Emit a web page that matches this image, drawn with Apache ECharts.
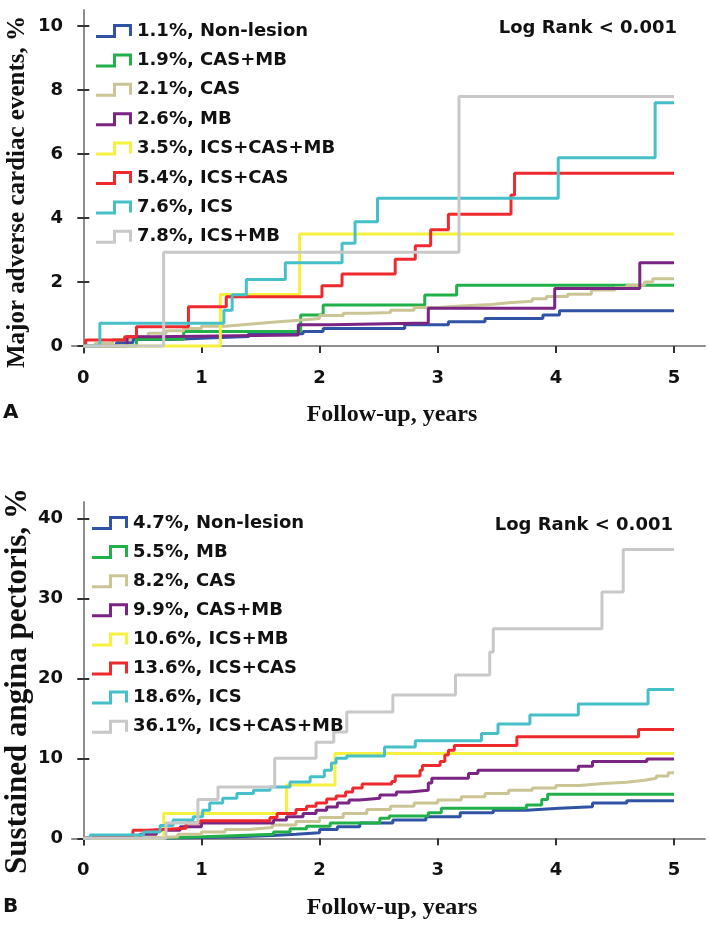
<!DOCTYPE html>
<html><head><meta charset="utf-8">
<script src="https://cdn.jsdelivr.net/npm/echarts@6/dist/echarts.min.js"></script>
<style>html,body{margin:0;padding:0;background:#fff}#c{width:709px;height:926px}</style>
</head><body><div id="c"></div>
<script>
// ---------- tick labels ----------
const xTicks = [0, 1, 2, 3, 4, 5];
const maceTicks = [0, 2, 4, 6, 8, 10];
const anginaTicks = [0, 10, 20, 30, 40];

// ---------- panel A: Major adverse cardiac events (%) ----------
const maceNames = ['1.1%, Non-lesion', '1.9%, CAS+MB', '2.1%, CAS', '2.6%, MB',
  '3.5%, ICS+CAS+MB', '5.4%, ICS+CAS', '7.6%, ICS', '7.8%, ICS+MB'];
const maceNonLesion = [[0,0],[0.28,0.1],[0.42,0.2],[0.75,0.25],[1.05,0.3],[1.4,0.38],[1.86,0.45],[2.03,0.55],[2.72,0.66],[3.09,0.76],[3.4,0.86],[3.89,0.97],[4.03,1.1],[5,1.1]];
const maceCasMb = [[0,0],[0.45,0.21],[0.85,0.45],[1.84,0.97],[2.03,1.28],[2.89,1.59],[3.16,1.9],[5,1.9]];
const maceCas = [[0,0],[0.1,0.08],[0.25,0.2],[0.4,0.3],[0.55,0.4],[0.7,0.48],[0.85,0.55],[1.0,0.62],[1.2,0.68],[1.4,0.74],[1.6,0.8],[1.8,0.86],[2.0,0.95],[2.2,1.02],[2.4,1.05],[2.6,1.12],[2.8,1.2],[3.0,1.25],[3.2,1.3],[3.45,1.35],[3.6,1.4],[3.8,1.48],[3.92,1.55],[4.1,1.62],[4.3,1.75],[4.5,1.82],[4.6,1.9],[4.75,2.0],[4.82,2.1],[5,2.1]];
const maceMb = [[0,0],[0.37,0.29],[0.6,0.34],[1.82,0.66],[2.1,0.72],[2.92,1.18],[3.99,1.8],[4.71,2.6],[5,2.6]];
const maceIcsCasMb = [[0,0],[1.16,1.61],[1.83,3.5],[5,3.5]];
const maceIcsCas = [[0,0],[0.02,0.19],[0.35,0.29],[0.45,0.6],[0.89,1.23],[1.21,1.54],[2.02,1.88],[2.19,2.25],[2.64,2.71],[2.81,3.13],[2.94,3.63],[3.09,4.12],[3.62,4.72],[3.65,5.4],[5,5.4]];
const maceIcs = [[0,0],[0.14,0.71],[1.19,1.12],[1.26,1.6],[1.38,2.08],[1.71,2.6],[2.19,3.21],[2.3,3.88],[2.49,4.62],[4.02,5.88],[4.84,7.6],[5,7.6]];
const maceIcsMb = [[0,0],[0.68,2.93],[3.18,7.8],[5,7.8]];
const maceSeries = [maceNonLesion, maceCasMb, maceCas, maceMb, maceIcsCasMb, maceIcsCas, maceIcs, maceIcsMb];

// ---------- panel B: Sustained angina pectoris (%) ----------
const anginaNames = ['4.7%, Non-lesion', '5.5%, MB', '8.2%, CAS', '9.9%, CAS+MB',
  '10.6%, ICS+MB', '13.6%, ICS+CAS', '18.6%, ICS', '36.1%, ICS+CAS+MB'];
const anginaNonLesion = [[0,0],[0.5,0.1],[1.0,0.2],[1.3,0.35],[1.6,0.5],[1.8,0.7],[2.0,1.1],[2.15,1.45],[2.34,1.9],[2.62,2.3],[2.9,2.7],[3.19,3.2],[3.47,3.5],[3.75,3.75],[4.03,3.95],[4.31,4.4],[4.6,4.7],[5,4.7]];
const anginaMb = [[0,0],[0.6,0.1],[0.82,0.3],[1.21,0.5],[1.61,0.8],[1.75,1.2],[1.89,1.5],[2.09,1.9],[2.51,2.5],[2.59,2.8],[2.92,3.2],[3.03,3.75],[3.75,4.15],[3.88,4.85],[3.93,5.5],[5,5.5]];
const anginaCas = [[0,0],[0.5,0.2],[0.8,0.5],[1.0,0.8],[1.2,1.1],[1.4,1.35],[1.6,1.65],[1.8,2.1],[2.0,2.6],[2.2,3.1],[2.4,3.6],[2.6,4.0],[2.8,4.4],[3.0,4.8],[3.2,5.2],[3.4,5.6],[3.6,6.0],[3.8,6.3],[4.0,6.6],[4.2,6.85],[4.4,7.0],[4.6,7.25],[4.75,7.5],[4.85,7.8],[4.95,8.2],[5,8.2]];
const anginaCasMb = [[0,0],[0.48,0.5],[0.62,1.0],[0.82,1.45],[1.0,1.9],[1.61,2.3],[1.72,2.7],[1.86,3.1],[1.97,3.5],[2.06,3.9],[2.15,4.4],[2.25,4.8],[2.34,5.0],[2.51,5.4],[2.65,5.8],[2.76,6.0],[2.92,6.9],[2.95,7.5],[3.26,8.1],[3.34,8.5],[4.19,9.0],[4.31,9.6],[4.77,9.9],[5,9.9]];
const anginaIcsMb = [[0,0],[0.68,3.1],[1.72,6.65],[2.13,10.6],[5,10.6]];
const anginaIcsCas = [[0,0],[0.06,0.3],[0.42,1.0],[0.54,1.25],[0.87,1.9],[0.99,2.2],[1.58,2.6],[1.64,3.1],[1.8,3.6],[1.89,4.0],[1.97,4.4],[2.06,4.9],[2.14,5.3],[2.22,5.8],[2.28,6.3],[2.36,6.8],[2.61,7.1],[2.64,7.8],[2.85,8.5],[2.87,9.1],[3.02,9.6],[3.06,10.4],[3.09,11.0],[3.14,11.6],[3.67,12.7],[4.70,13.6],[5,13.6]];
const anginaIcs = [[0,0],[0.06,0.4],[0.51,0.8],[0.65,1.6],[0.76,2.3],[0.93,2.7],[1.01,3.5],[1.07,4.4],[1.18,5.0],[1.3,5.6],[1.44,6.0],[1.58,6.4],[1.75,7.05],[1.92,7.7],[2.04,8.5],[2.1,9.4],[2.14,10.0],[2.23,10.3],[2.55,11.4],[2.81,12.2],[3.37,13.1],[3.51,14.3],[3.78,15.4],[4.19,16.8],[4.78,18.6],[5,18.6]];
const anginaIcsCasMb = [[0,0],[0.7,1.9],[0.97,4.85],[1.14,6.4],[1.62,10.0],[1.97,12.0],[2.12,13.3],[2.23,15.8],[2.62,17.9],[3.15,20.4],[3.44,23.3],[3.47,26.2],[4.39,30.8],[4.57,36.1],[5,36.1]];
const anginaSeries = [anginaNonLesion, anginaMb, anginaCas, anginaCasMb, anginaIcsMb, anginaIcsCas, anginaIcs, anginaIcsCasMb];

// ---------- styles ----------
const maceColors = ['#3153a5', '#22b04a', '#cbc596', '#7a2484', '#f6f03e', '#ee2a2f', '#46c0c8', '#c8c8c8'];
const anginaColors = ['#3153a5', '#22b04a', '#cbc596', '#7a2484', '#f6f03e', '#ee2a2f', '#46c0c8', '#c8c8c8'];
const SANS = 'DejaVu Sans';
const iconPath = 'path://M0,11L17,11L17,0L36,0L36,12L33,12L33,3L20,3L20,14L0,14Z';

function mainX(grid) {
  return {
    type: 'value', gridIndex: grid, min: -0.0956, max: 5.262,
    axisLine: { show: true, lineStyle: { color: '#8e8e8e', width: 2 } },
    axisTick: { show: true, inside: false, length: 7, customValues: xTicks, lineStyle: { color: '#333', width: 2 } },
    axisLabel: { show: true, customValues: xTicks, margin: 16, fontFamily: SANS, fontWeight: 'bold', fontSize: 18, color: '#111' },
    splitLine: { show: false }
  };
}
function innerX(grid) {
  return {
    type: 'value', gridIndex: grid, min: -0.0956, max: 5.262,
    axisLine: { show: false },
    axisTick: { show: true, inside: true, length: 7, customValues: xTicks, lineStyle: { color: '#333', width: 2 } },
    axisLabel: { show: false }, splitLine: { show: false }
  };
}
function mainY(grid, min, max, ticks) {
  return {
    type: 'value', gridIndex: grid, min: min, max: max, position: 'left',
    axisLine: { show: true, lineStyle: { color: '#8e8e8e', width: 2 } },
    axisTick: { show: true, inside: false, length: 6, customValues: ticks, lineStyle: { color: '#333', width: 2 } },
    axisLabel: { show: true, customValues: ticks, margin: 9, fontFamily: SANS, fontWeight: 'bold', fontSize: 18, color: '#111' },
    splitLine: { show: false }
  };
}
function innerY(grid, min, max, ticks) {
  return {
    type: 'value', gridIndex: grid, min: min, max: max, position: 'left',
    axisLine: { show: false },
    axisTick: { show: true, inside: true, length: 6, customValues: ticks, lineStyle: { color: '#333', width: 2 } },
    axisLabel: { show: false }, splitLine: { show: false }
  };
}

const series = [];
maceSeries.forEach((d, i) => series.push({
  name: maceNames[i], type: 'line', step: 'end', data: d, xAxisIndex: 0, yAxisIndex: 0,
  showSymbol: false, symbol: 'none', lineStyle: { width: 3, color: maceColors[i] }, itemStyle: { color: maceColors[i] }
}));
anginaSeries.forEach((d, i) => series.push({
  name: anginaNames[i], type: 'line', step: 'end', data: d, xAxisIndex: 2, yAxisIndex: 2,
  showSymbol: false, symbol: 'none', lineStyle: { width: 3, color: anginaColors[i] }, itemStyle: { color: anginaColors[i] }
}));

const legendText = { fontFamily: SANS, fontWeight: 'bold', fontSize: 18, color: '#111', lineHeight: 18 };
const chart = echarts.init(document.getElementById('c'), null, { renderer: 'canvas' });
chart.setOption({
  animation: false,
  backgroundColor: '#fff',
  grid: [
    { left: 72, top: 10, width: 633, height: 343, outerBoundsMode: 'none', containLabel: false },
    { left: 72, top: 502, width: 633, height: 343, outerBoundsMode: 'none', containLabel: false }
  ],
  xAxis: [mainX(0), innerX(0), mainX(1), innerX(1)],
  yAxis: [
    mainY(0, -0.219, 10.5, maceTicks), innerY(0, -0.219, 10.5, maceTicks),
    mainY(1, -0.84, 42.04, anginaTicks), innerY(1, -0.84, 42.04, anginaTicks)
  ],
  legend: [
    { data: maceNames, orient: 'vertical', left: 91, top: 17, itemWidth: 36, itemHeight: 14, itemGap: 11.4,
      icon: iconPath, selectedMode: false, itemStyle: { borderWidth: 0 }, textStyle: legendText },
    { data: anginaNames, orient: 'vertical', left: 87, top: 509, itemWidth: 36, itemHeight: 14, itemGap: 11.1,
      icon: iconPath, selectedMode: false, itemStyle: { borderWidth: 0 }, textStyle: legendText }
  ],
  graphic: [
    { type: 'text', x: 677, y: 28, style: { text: 'Log Rank < 0.001', font: 'bold 18px "DejaVu Sans"', fill: '#111', textAlign: 'right', textVerticalAlign: 'middle' } },
    { type: 'text', x: 673, y: 525, style: { text: 'Log Rank < 0.001', font: 'bold 18px "DejaVu Sans"', fill: '#111', textAlign: 'right', textVerticalAlign: 'middle' } },
    { type: 'text', x: 392, y: 415, style: { text: 'Follow-up, years', font: 'bold 24px "Liberation Serif"', fill: '#111', textAlign: 'center', textVerticalAlign: 'middle' } },
    { type: 'text', x: 392, y: 908, style: { text: 'Follow-up, years', font: 'bold 24px "Liberation Serif"', fill: '#111', textAlign: 'center', textVerticalAlign: 'middle' } },
    { type: 'text', x: 3, y: 413, style: { text: 'A', font: 'bold 20px "DejaVu Sans"', fill: '#111', textAlign: 'left', textVerticalAlign: 'middle' } },
    { type: 'text', x: 3, y: 907, style: { text: 'B', font: 'bold 20px "DejaVu Sans"', fill: '#111', textAlign: 'left', textVerticalAlign: 'middle' } },
    { type: 'text', x: 18, y: 192, rotation: Math.PI / 2, style: { text: 'Major adverse cardiac events, %', font: 'bold 25px "Liberation Serif"', fill: '#111', textAlign: 'center', textVerticalAlign: 'middle' } },
    { type: 'text', x: 18, y: 681, rotation: Math.PI / 2, style: { text: 'Sustained angina pectoris, %', font: 'bold 31px "Liberation Serif"', fill: '#111', textAlign: 'center', textVerticalAlign: 'middle' } }
  ],
  series: series
});
</script>
</body></html>
